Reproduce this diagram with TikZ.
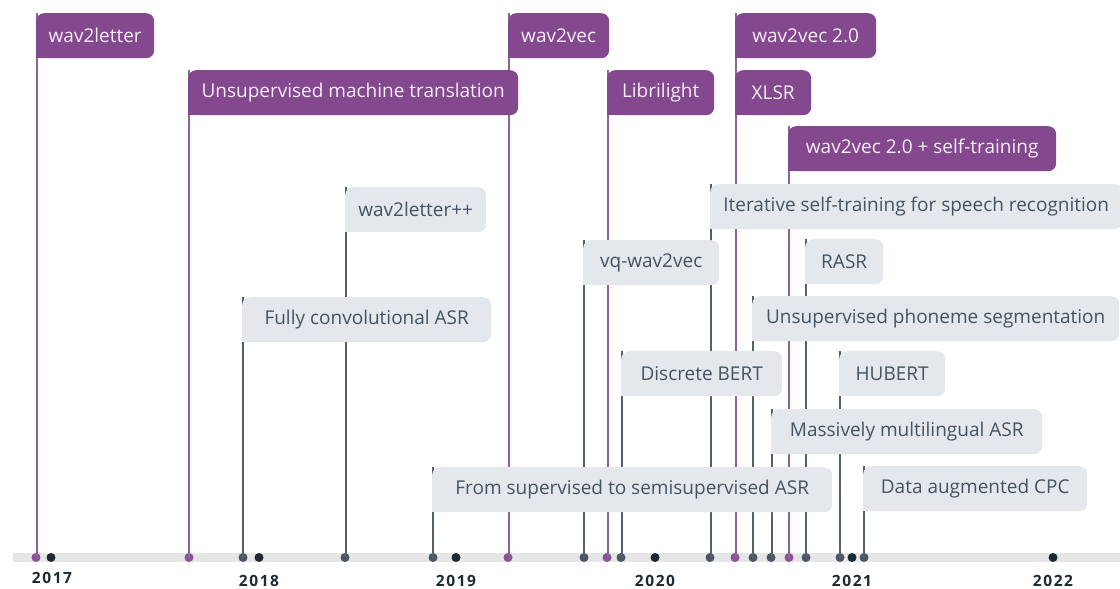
\documentclass[tikz,border=0pt]{standalone}
\usepackage{fontspec}
\setmainfont{Open Sans}
\newfontfamily\yearfont[LetterSpace=10]{Open Sans}
\definecolor{pfill}{HTML}{84488F}
\definecolor{ptext}{HTML}{F6EEF8}
\definecolor{gfill}{HTML}{E4E8ED}
\definecolor{gtext}{HTML}{465361}
\definecolor{pstemc}{HTML}{8A6692}
\definecolor{gstemc}{HTML}{55606B}
\definecolor{pdotc}{HTML}{8E4E9A}
\definecolor{gdotc}{HTML}{4A5764}
\definecolor{ydotc}{HTML}{1C2B33}
\definecolor{axisc}{HTML}{E6E6E6}
\begin{document}
\begin{tikzpicture}[x=1pt,y=-1pt,
  flag/.style={anchor=north west, minimum height=45pt, inner sep=0pt, rounded corners=8pt, font=\fontsize{19}{22}\selectfont},
  pbox/.style={flag, fill=pfill, text=ptext},
  gbox/.style={flag, fill=gfill, text=gtext},
  pstem/.style={draw=pstemc, line width=1.5pt},
  gstem/.style={draw=gstemc, line width=1.5pt},
  dotb/.style={circle, inner sep=0pt, minimum size=9pt},
  pdot/.style={dotb, fill=pdotc},
  gdot/.style={dotb, fill=gdotc},
  ydot/.style={dotb, fill=ydotc},
  yearlbl/.style={font=\yearfont\bfseries\fontsize{15.5}{18}\selectfont, text=ydotc}
]
\useasboundingbox (0,0) rectangle (1120,589);
% axis
\fill[axisc] (13,553) rectangle (1120,562);
% dots
\node[pdot] (da) at (36,557.5) {};
\node[ydot] (y17) at (51,557.5) {};
\node[pdot] (db) at (189,557.5) {};
\node[gdot] (dl) at (243,557.5) {};
\node[ydot] (y18) at (259,557.5) {};
\node[gdot] (di) at (345,557.5) {};
\node[gdot] (dq) at (433,557.5) {};
\node[ydot] (y19) at (456,557.5) {};
\node[pdot] (dc) at (508,557.5) {};
\node[gdot] (dj) at (584,557.5) {};
\node[pdot] (dd) at (607,557.5) {};
\node[gdot] (dn) at (621,557.5) {};
\node[ydot] (y20) at (655,557.5) {};
\node[gdot] (dh) at (710,557.5) {};
\node[pdot] (de) at (735,557.5) {};
\node[gdot] (dm) at (753,557.5) {};
\node[gdot] (dp) at (771,557.5) {};
\node[pdot] (dg) at (789,557.5) {};
\node[gdot] (dk) at (806,557.5) {};
\node[gdot] (do) at (840,557.5) {};
\node[ydot] (y21) at (852,557.5) {};
\node[gdot] (dr) at (864,557.5) {};
\node[ydot] (y22) at (1053,557.5) {};
% year labels
\node[yearlbl] (t17) at (52,578) {2017};
\node[yearlbl] (t18) at (259,581) {2018};
\node[yearlbl] (t19) at (456,581) {2019};
\node[yearlbl] (t20) at (655,581) {2020};
\node[yearlbl] (t21) at (852,581) {2021};
\node[yearlbl] (t22) at (1053,581) {2022};
% boxes: coordinates for anchors
\coordinate (pa) at (36,13);
\coordinate (pb) at (188,70);
\coordinate (pc) at (508,13);
\coordinate (pd) at (607,70);
\coordinate (pe) at (735,13);
\coordinate (pf) at (735,70);
\coordinate (pg) at (788,126);
\coordinate (ph) at (710,184);
\coordinate (pi) at (345,187);
\coordinate (pj) at (583,240);
\coordinate (pk) at (805,239);
\coordinate (pl) at (242,297);
\coordinate (pm) at (752,296);
\coordinate (pn) at (621,351);
\coordinate (po) at (839,351);
\coordinate (pp) at (771,409);
\coordinate (pq) at (432,467);
\coordinate (pr) at (863,466);
% stems (drawn first, behind boxes)
\path[pstem] ([xshift=0.75pt]pa) -- ([xshift=0.75pt]pa |- da);
\path[pstem] ([xshift=0.75pt]pb) -- ([xshift=0.75pt]pb |- db);
\path[pstem] ([xshift=0.75pt]pc) -- ([xshift=0.75pt]pc |- dc);
\path[pstem] ([xshift=0.75pt]pd) -- ([xshift=0.75pt]pd |- dd);
\path[pstem] ([xshift=0.75pt]pe) -- ([xshift=0.75pt]pe |- de);
\path[pstem] ([xshift=0.75pt]pg) -- ([xshift=0.75pt]pg |- dg);
\path[gstem] ([xshift=0.75pt]ph) -- ([xshift=0.75pt]ph |- dh);
\path[gstem] ([xshift=0.75pt]pi) -- ([xshift=0.75pt]pi |- di);
\path[gstem] ([xshift=0.75pt]pj) -- ([xshift=0.75pt]pj |- dj);
\path[gstem] ([xshift=0.75pt]pk) -- ([xshift=0.75pt]pk |- dk);
\path[gstem] ([xshift=0.75pt]pl) -- ([xshift=0.75pt]pl |- dl);
\path[gstem] ([xshift=0.75pt]pm) -- ([xshift=0.75pt]pm |- dm);
\path[gstem] ([xshift=0.75pt]pn) -- ([xshift=0.75pt]pn |- dn);
\path[gstem] ([xshift=0.75pt]po) -- ([xshift=0.75pt]po |- do);
\path[gstem] ([xshift=0.75pt]pp) -- ([xshift=0.75pt]pp |- dp);
\path[gstem] ([xshift=0.75pt]pq) -- ([xshift=0.75pt]pq |- dq);
\path[gstem] ([xshift=0.75pt]pr) -- ([xshift=0.75pt]pr |- dr);
% boxes
\node[pbox, minimum width=118pt] (a) at (pa) {wav2letter};
\node[pbox, minimum width=330pt] (b) at (pb) {Unsupervised machine translation};
\node[pbox, minimum width=101pt] (c) at (pc) {wav2vec};
\node[pbox, minimum width=107pt] (d) at (pd) {Librilight};
\node[pbox, minimum width=141pt] (e) at (pe) {wav2vec 2.0};
\node[pbox, minimum width=76pt] (f) at (pf) {XLSR};
\node[pbox, minimum width=268pt] (g) at (pg) {wav2vec 2.0 + self-training};
\node[gbox, minimum width=412pt] (h) at (ph) {Iterative self-training for speech recognition};
\node[gbox, minimum width=141pt] (i) at (pi) {wav2letter++};
\node[gbox, minimum width=136pt] (j) at (pj) {vq-wav2vec};
\node[gbox, minimum width=78pt] (k) at (pk) {RASR};
\node[gbox, minimum width=249pt] (l) at (pl) {Fully convolutional ASR};
\node[gbox, minimum width=367pt] (m) at (pm) {Unsupervised phoneme segmentation};
\node[gbox, minimum width=161pt] (n) at (pn) {Discrete BERT};
\node[gbox, minimum width=106pt] (o) at (po) {HUBERT};
\node[gbox, minimum width=271pt] (p) at (pp) {Massively multilingual ASR};
\node[gbox, minimum width=400pt] (q) at (pq) {From supervised to semisupervised ASR};
\node[gbox, minimum width=224pt] (r) at (pr) {Data augmented CPC};
% square bottom-left corners
\foreach \n in {a,b,c,d,e,f,g} \fill[pfill] (\n.south west) rectangle ++(9,-9);
\foreach \n in {h,i,j,k,l,m,n,o,p,q,r} \fill[gfill] (\n.south west) rectangle ++(9,-9);
% stem links between stacked purple boxes
\draw[pstem] ([xshift=0.75pt]e.south west) -- ([xshift=0.75pt]f.north west);
\end{tikzpicture}
\end{document}
